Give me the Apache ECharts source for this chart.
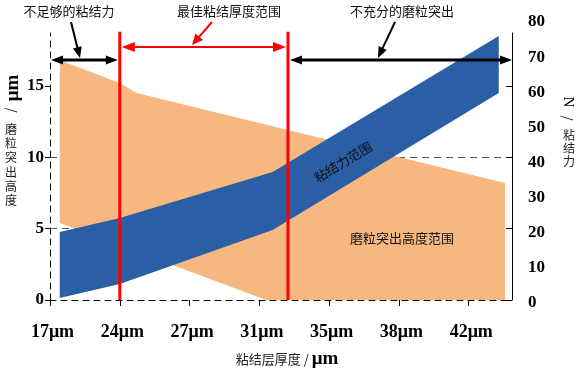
<!DOCTYPE html>
<html><head><meta charset="utf-8">
<script src="https://cdn.jsdelivr.net/npm/echarts@6/dist/echarts.min.js"></script>
<style>html,body{margin:0;padding:0;background:#fff}#c{width:583px;height:381px}</style>
</head><body><div id="c"></div>
<script>
// ---------- data ----------
const categories = ['17μm', '24μm', '27μm', '31μm', '35μm', '38μm', '42μm'];
const leftTicks = [0, 5, 10, 15];
const rightTicks = [0, 10, 20, 30, 40, 50, 60, 70, 80];
// 磨粒突出高度范围 (left axis, µm); x in category-index units
const heightUpperX = [0.14, 1.0, 1.24, 6.52];
const heightUpper  = [16.8, 15.2, 14.5, 8.2];
const heightLowerX = [0.14, 3.1, 6.52];
const heightLower  = [5.4, 0, 0];
// 粘结力范围 (right axis, N)
const forceX     = [0.14, 1.0, 3.19, 6.43];
const forceUpper = [20.2, 24.2, 37.3, 76.0];
const forceLower = [1.4, 5.4, 20.8, 59.8];
// zone boundaries (category-index units) and arrow levels (left-axis units)
const zoneEdges = [0, 1, 3.41, 6.62];
const blackArrowLevel = 16.82;
const redArrowLevel = 17.73;
const redLineTop = 18.8;

// ---------- build ----------
function band(ux, uy, lx, ly) {
  const up = ux.map((x, i) => [x, uy[i]]);
  const lo = lx.map((x, i) => [x, ly[i]]).reverse();
  return up.concat(lo);
}
const heightPoly = band(heightUpperX, heightUpper, heightLowerX, heightLower);
const forcePoly = band(forceX, forceUpper, forceX, forceLower);

const SERIF = 'Liberation Serif';
const CJK = 'Noto Sans CJK SC';
const XMAX = zoneEdges[3];

const chart = echarts.init(document.getElementById('c'), null, {renderer: 'canvas'});
function polySeries(poly, xi, yi, color) {
  return {
    type: 'custom', xAxisIndex: xi, yAxisIndex: yi, silent: true, animation: false,
    data: poly,
    renderItem: function (params, api) {
      if (params.dataIndex !== 0) return;
      const pts = poly.map(p => api.coord(p));
      return {type: 'polygon', shape: {points: pts}, style: {fill: color}};
    }
  };
}

chart.setOption({
  animation: false,
  backgroundColor: '#fff',
  grid: [
    {left: 50, right: 71, top: 33, bottom: 81},
    {left: 50, right: 71, top: 22, bottom: 78}
  ],
  xAxis: [
    {
      type: 'value', gridIndex: 0, min: 0, max: XMAX, interval: 1,
      axisLine: {show: true, lineStyle: {color: '#000', type: [6, 5], width: 1}},
      axisTick: {show: true, length: 6, lineStyle: {color: '#000'}, customValues: [0, 1, 2, 3, 4, 5, 6]},
      axisLabel: {
        customValues: [0, 1, 2, 3, 4, 5, 6],
        formatter: v => (Number.isInteger(v) && categories[v]) ? categories[v] : '',
        fontFamily: SERIF, fontWeight: 'bold', fontSize: 18, color: '#000', margin: 23,
        padding: [0, 0, 0, 5]
      },
      splitLine: {show: false},
      name: '{a|粘结层厚度 / }{b|μm}', nameLocation: 'middle', nameGap: 50,
      nameTextStyle: {
        padding: [0, 0, 0, 12],
        rich: {
          a: {fontFamily: CJK, fontSize: 13, color: '#222'},
          b: {fontFamily: SERIF, fontWeight: 'bold', fontSize: 19, color: '#000'}
        }
      }
    },
    {type: 'value', gridIndex: 1, min: 0, max: XMAX, show: false}
  ],
  yAxis: [
    {
      type: 'value', gridIndex: 0, position: 'left', min: 0, max: 18.71, interval: 5,
      axisLine: {show: true, lineStyle: {color: '#000', type: [6, 5], width: 1}},
      axisTick: {show: true, length: 5, lineStyle: {color: '#000'}, customValues: leftTicks},
      axisLabel: {
        customValues: leftTicks,
        formatter: v => leftTicks.includes(v) ? String(v) : '',
        fontFamily: SERIF, fontWeight: 'bold', fontSize: 17, color: '#000', margin: 6
      },
      splitLine: {show: true, showMinLine: false, showMaxLine: false,
        lineStyle: {color: '#555', type: [7, 5], width: 1}}
    },
    {
      type: 'value', gridIndex: 0, position: 'right', min: 0, max: 18.71, interval: 5,
      axisLine: {show: true, lineStyle: {color: '#000', width: 1}},
      axisTick: {show: true, inside: true, length: 6, lineStyle: {color: '#000'}, customValues: leftTicks},
      axisLabel: {show: false},
      splitLine: {show: false}
    },
    {
      type: 'value', gridIndex: 1, position: 'right', min: 0, max: 80, interval: 10,
      axisLine: {show: false}, axisTick: {show: false}, splitLine: {show: false},
      axisLabel: {
        formatter: v => rightTicks.includes(v) ? String(v) : '',
        fontFamily: SERIF, fontWeight: 'bold', fontSize: 17, color: '#000', margin: 16
      }
    }
  ],
  series: [
    polySeries(heightPoly, 0, 0, '#F6B780'),
    polySeries(forcePoly, 1, 2, '#2A5EA5')
  ]
});

// ---------- annotations ----------
const P = (x, y) => chart.convertToPixel({xAxisIndex: 0, yAxisIndex: 0}, [x, y]);
const G = [];
function add(el) { el.z = 100; el.silent = true; G.push(el); }
function hArrow(xa, xb, y, color, lw, hl, hw) {
  add({type: 'line', shape: {x1: xa + hl - 1, y1: y, x2: xb - hl + 1, y2: y}, style: {stroke: color, lineWidth: lw}});
  add({type: 'polygon', shape: {points: [[xa, y], [xa + hl, y - hw], [xa + hl, y + hw]]}, style: {fill: color}});
  add({type: 'polygon', shape: {points: [[xb, y], [xb - hl, y - hw], [xb - hl, y + hw]]}, style: {fill: color}});
}
function pointer(x1, y1, x2, y2, color, lw, hl, hw) {
  const dx = x2 - x1, dy = y2 - y1, L = Math.hypot(dx, dy);
  const ux = dx / L, uy = dy / L;
  const bx = x2 - ux * hl, by = y2 - uy * hl;
  add({type: 'line', shape: {x1: x1, y1: y1, x2: bx + ux, y2: by + uy}, style: {stroke: color, lineWidth: lw}});
  add({type: 'polygon', shape: {points: [[x2, y2], [bx - uy * hw, by + ux * hw], [bx + uy * hw, by - ux * hw]]}, style: {fill: color}});
}
function text(str, x, y, font, color, rot, extra) {
  add(Object.assign({type: 'text', x: x, y: y, rotation: rot || 0,
    style: Object.assign({text: str, font: font, fill: color, align: 'center', verticalAlign: 'middle'}, extra || {})}));
}

// red boundary lines
[zoneEdges[1], zoneEdges[2]].forEach(e => {
  const top = P(e, redLineTop), bot = P(e, 0);
  add({type: 'line', shape: {x1: top[0], y1: top[1], x2: bot[0], y2: bot[1]}, style: {stroke: '#FF0000', lineWidth: 3}});
});
// zone arrows
{
  const yb = P(0, blackArrowLevel)[1];
  const yr = P(0, redArrowLevel)[1];
  const e0 = P(zoneEdges[0], 0)[0], e1 = P(zoneEdges[1], 0)[0], e2 = P(zoneEdges[2], 0)[0], e3 = P(zoneEdges[3], 0)[0];
  hArrow(e0 + 1, e1 - 2, yb, '#000', 3, 12, 4.5);
  hArrow(e1 + 2, e2 - 2, yr, '#FF0000', 2, 13, 5);
  hArrow(e2 + 2, e3, yb, '#000', 3, 12, 4.5);
  pointer(71, 22, 80, yb - 2, '#000', 2, 11, 4.5);
  pointer(212, 22, 192, yr - 2, '#FF0000', 2, 11, 5);
  pointer(395, 22, 378, yb - 2, '#000', 2, 11, 4.5);
}
const f13 = '13px "' + CJK + '"';
text('不足够的粘结力', 69, 11, f13, '#111');
text('最佳粘结厚度范围', 229, 11, f13, '#111');
text('不充分的磨粒突出', 402, 11, f13, '#111');
text('粘结力范围', 343, 162, f13, '#111', 31 * Math.PI / 180);
text('磨粒突出高度范围', 402, 238, f13, '#111');
// y-axis names
text('μm', 13, 88, 'bold 19px "' + SERIF + '"', '#000', Math.PI / 2);
text('/', 12, 110, '13px "' + CJK + '"', '#222', -Math.PI / 2);
text('磨\n粒\n突\n出\n高\n度', 11, 165, '12px "' + CJK + '"', '#222', 0, {lineHeight: 14.3});
text('N', 568, 102, '15px "' + SERIF + '"', '#000', -Math.PI / 2);
text('/', 568, 118, '13px "' + CJK + '"', '#222', -Math.PI / 2);
text('粘\n结\n力', 569, 148, '12px "' + CJK + '"', '#222', 0, {lineHeight: 13});

chart.setOption({graphic: {elements: G}});
</script>
</body></html>
